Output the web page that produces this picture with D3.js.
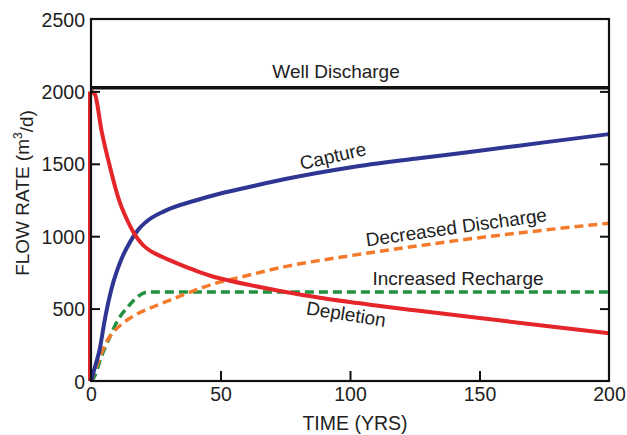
<!DOCTYPE html>
<html>
<head>
<meta charset="utf-8">
<script src="https://cdn.jsdelivr.net/npm/d3@7"></script>
<style>
	body { margin: 0; background: #fff; }
	svg { display: block; font-family: "Liberation Sans", Arial, sans-serif; }
</style>
</head>
<body>
<svg id="chart" width="627" height="435"></svg>
<script>
"use strict";

var aXTicks = [0, 50, 100, 150, 200];
var aYTicks = [0, 500, 1000, 1500, 2000, 2500];

var fWellDischarge = 2025;

var aDepletion = [
	[0, 2000], [1.5, 1980], [4, 1735], [7.3, 1480], [11, 1240], [14, 1110], [16.6, 1020],
	[20, 940], [22, 910], [25, 878], [31, 830], [40, 765], [47, 722], [50, 708], [73, 622],
	[100, 545], [125, 488], [150, 435], [175, 382], [200, 330]
];
var aCapture = [
	[0, 0], [1.5, 95], [3.3, 214], [5.3, 421], [7.8, 628], [11.6, 835], [15.5, 973], [18, 1040],
	[21, 1095], [28.6, 1175], [40, 1245], [50, 1295], [61, 1340], [75, 1395], [100, 1475],
	[125, 1535], [150, 1590], [175, 1648], [200, 1705]
];
var aRecharge = [
	[0, 0], [1, 20], [4, 168], [7.3, 306], [10.4, 421], [14.3, 513], [18, 582], [22, 615], [200, 615]
];
var aDischarge = [
	[0, 0], [2, 95], [4, 190], [6, 270], [9, 345], [12, 395], [17, 455], [23, 505], [30, 555],
	[37, 605], [50, 685], [56, 710], [75, 790], [100, 865], [125, 930], [150, 990], [175, 1042], [200, 1090]
];

var oMargin = { top: 19, right: 18, bottom: 54, left: 91 },
	iWidth = 627 - oMargin.left - oMargin.right,
	iHeight = 435 - oMargin.top - oMargin.bottom;

var selSvg = d3.select("#chart");
var selG = selSvg.append("g").attr("transform", "translate(" + oMargin.left + "," + oMargin.top + ")");

var x = d3.scaleLinear().domain([0, 200]).range([0, iWidth]);
var y = d3.scaleLinear().domain([0, 2500]).range([iHeight, 0]);

var fnLine = d3.line()
	.x(function (d) { return x(d[0]); })
	.y(function (d) { return y(d[1]); })
	.curve(d3.curveMonotoneX);

// series
selG.append("path")
	.datum([[0, 0], aDepletion[0]])
	.attr("d", d3.line().x(function (d) { return x(d[0]) - 2; }).y(function (d) { return y(d[1]); }))
	.attr("fill", "none").attr("stroke", "#e4262b").attr("stroke-width", 2);

selG.append("path").datum(aRecharge).attr("d", fnLine)
	.attr("fill", "none").attr("stroke", "#22913f").attr("stroke-width", 3.5)
	.attr("stroke-dasharray", "9,5");

selG.append("path").datum(aDischarge).attr("d", fnLine)
	.attr("fill", "none").attr("stroke", "#f47b2c").attr("stroke-width", 3.5)
	.attr("stroke-dasharray", "9,5");

selG.append("path").datum(aCapture).attr("d", fnLine)
	.attr("fill", "none").attr("stroke", "#2e3592").attr("stroke-width", 4);

selG.append("path").datum(aDepletion).attr("d", fnLine)
	.attr("fill", "none").attr("stroke", "#e4262b").attr("stroke-width", 4);

selG.append("line")
	.attr("x1", x(0)).attr("x2", x(200))
	.attr("y1", y(fWellDischarge)).attr("y2", y(fWellDischarge))
	.attr("stroke", "#111").attr("stroke-width", 3.5);

// axes, ticks pointing inwards
function styleAxis(sel) {
	sel.select(".domain").remove();
	sel.selectAll("line").attr("stroke", "#111").attr("stroke-width", 2);
	sel.selectAll("text").attr("fill", "#222").attr("font-size", "19.5px");
}

selG.append("g").attr("transform", "translate(0," + iHeight + ")")
	.call(d3.axisBottom(x).tickValues(aXTicks).tickSize(-10).tickPadding(6).tickFormat(d3.format("d")))
	.call(styleAxis)
	.call(function (sel) {
		sel.selectAll(".tick line").filter(function (d) { return d === 0 || d === 200; }).remove();
	});

selG.append("g")
	.call(d3.axisLeft(y).tickValues(aYTicks).tickSize(-9).tickPadding(6).tickFormat(d3.format("d")))
	.call(styleAxis)
	.call(function (sel) {
		sel.selectAll(".tick line").filter(function (d) { return d === 0 || d === 2500; }).remove();
		sel.selectAll("text").attr("dy", "0.36em");
	});

selG.append("g").attr("transform", "translate(" + iWidth + ",0)")
	.call(d3.axisRight(y).tickValues(aYTicks).tickSize(-9).tickFormat(""))
	.call(styleAxis)
	.call(function (sel) {
		sel.selectAll(".tick line").filter(function (d) { return d === 0 || d === 2500; }).remove();
	});

selG.append("rect")
	.attr("width", iWidth).attr("height", iHeight)
	.attr("fill", "none").attr("stroke", "#111").attr("stroke-width", 2.2);

// axis titles
selG.append("text")
	.attr("x", iWidth / 2 + 5).attr("y", iHeight + 49)
	.attr("text-anchor", "middle").attr("font-size", "19.5px").attr("fill", "#222")
	.text("TIME (YRS)");

var selYTitle = selSvg.append("text")
	.attr("transform", "translate(29," + (oMargin.top + 174) + ") rotate(-90)")
	.attr("text-anchor", "middle").attr("font-size", "19px").attr("fill", "#222");
selYTitle.append("tspan").text("FLOW RATE (m");
selYTitle.append("tspan").attr("font-size", "12px").attr("dy", "-0.6em").text("3");
selYTitle.append("tspan").attr("dy", "0.6em").text("/d)");

// series labels
var aLabels = [
	{ t: "Well Discharge", x: 94.6, y: 2141, r: 0 },
	{ t: "Capture", x: 93.4, y: 1554, r: -13 },
	{ t: "Decreased Discharge", x: 141, y: 1063, r: -8 },
	{ t: "Increased Recharge", x: 141.7, y: 711, r: 0 },
	{ t: "Depletion", x: 98.5, y: 463, r: 9 }
];

selG.selectAll("text.label").data(aLabels).enter()
	.append("text").attr("class", "label")
	.attr("transform", function (d) {
		return "translate(" + x(d.x) + "," + y(d.y) + ") rotate(" + d.r + ")";
	})
	.attr("text-anchor", "middle").attr("dy", "0.35em")
	.attr("font-size", "19px").attr("fill", "#222")
	.text(function (d) { return d.t; });
</script>
</body>
</html>
